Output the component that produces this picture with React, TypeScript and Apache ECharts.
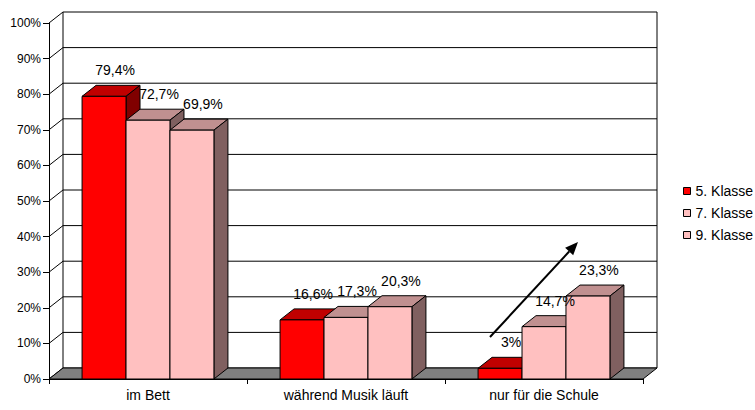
import React, { useEffect, useRef } from "react";
import * as echarts from "echarts";

const categories = ["im Bett", "während Musik läuft", "nur für die Schule"];
const seriesNames = ["5. Klasse", "7. Klasse", "9. Klasse"];
const klasse5 = [79.4, 16.6, 3];
const klasse7 = [72.7, 17.3, 14.7];
const klasse9 = [69.9, 20.3, 23.3];
const yTicks = [0, 10, 20, 30, 40, 50, 60, 70, 80, 90, 100];

const DX = 14;
const DY = -11;
const FONT = '"Liberation Sans", Arial, sans-serif';

const palettes = [
  { front: "#FF0000", top: "#C00000", side: "#800000" },
  { front: "#FFC0C0", top: "#C09090", side: "#806060" },
  { front: "#FFC0C0", top: "#C09090", side: "#806060" },
];

const fmt = (v: number) => String(v).replace(".", ",") + "%";

function barRenderer(k: number) {
  const pal = palettes[k];
  return (params: any, api: any) => {
    const ci = api.value(0);
    const v = api.value(1);
    const [cx, y0] = api.coord([ci, 0]);
    const [, yv] = api.coord([ci, v]);
    const cw = api.size([1, 0])[0];
    const bw = cw * 0.222;
    const x0 = cx - 1.5 * bw + k * bw;
    const x1 = x0 + bw;
    const stroke = { stroke: "#000", lineWidth: 1 };
    return {
      type: "group",
      children: [
        {
          type: "polygon",
          z2: k,
          shape: { points: [[x0, yv], [x0 + DX, yv + DY], [x1 + DX, yv + DY], [x1, yv]] },
          style: { fill: pal.top, ...stroke },
        },
        {
          type: "polygon",
          z2: k,
          shape: { points: [[x1, yv], [x1 + DX, yv + DY], [x1 + DX, y0 + DY], [x1, y0]] },
          style: { fill: pal.side, ...stroke },
        },
        {
          type: "rect",
          z2: k,
          shape: { x: x0, y: yv, width: bw, height: y0 - yv },
          style: { fill: pal.front, ...stroke },
        },
        {
          type: "text",
          z2: 50,
          style: {
            text: fmt(v),
            x: x0 + bw / 2 + 11,
            y: yv + DY - 15,
            align: "center",
            verticalAlign: "middle",
            fontSize: 14,
            fontFamily: FONT,
            fill: "#000",
          },
        },
      ],
    };
  };
}

function frameRenderer(params: any, api: any) {
  const v = api.value(1);
  const [, y] = api.coord([0, v]);
  const cs = params.coordSys;
  const left = cs.x;
  const right = cs.x + cs.width;
  const children: any[] = [
    {
      type: "line",
      shape: { x1: left, y1: y, x2: left + DX, y2: y + DY },
      style: { stroke: "#000", lineWidth: 1 },
    },
    {
      type: "line",
      shape: { x1: left + DX, y1: y + DY, x2: right + DX, y2: y + DY },
      style: { stroke: "#000", lineWidth: 1 },
    },
  ];
  if (v === 0) {
    const top = cs.y;
    children.push(
      {
        type: "line",
        shape: { x1: left + DX, y1: top + DY, x2: left + DX, y2: y + DY },
        style: { stroke: "#000", lineWidth: 1 },
      },
      {
        type: "line",
        shape: { x1: right + DX, y1: top + DY, x2: right + DX, y2: y + DY },
        style: { stroke: "#000", lineWidth: 1 },
      },
      {
        type: "polygon",
        shape: { points: [[left, y], [left + DX, y + DY], [right + DX, y + DY], [right, y]] },
        style: { fill: "#808080", stroke: "#000", lineWidth: 1 },
      }
    );
  }
  return { type: "group", children };
}

export default function App() {
  const ref = useRef<HTMLDivElement>(null);
  useEffect(() => {
    if (!ref.current) return;
    const chart = echarts.init(ref.current, null, { renderer: "svg" });
    const seriesValues = [klasse5, klasse7, klasse9];

    // arrow annotation
    const ax1 = 490, ay1 = 337, tx = 578, ty = 242;
    const len = Math.hypot(tx - ax1, ty - ay1);
    const ux = (tx - ax1) / len, uy = (ty - ay1) / len;
    const nx = -uy, ny = ux;
    const hl = 13, hw = 5.5;
    const bx = tx - hl * ux, by = ty - hl * uy;

    chart.setOption({
      animation: false,
      backgroundColor: "#fff",
      grid: { left: 49, right: 112, top: 23, bottom: 31 },
      xAxis: {
        type: "category",
        data: categories,
        boundaryGap: true,
        axisLine: { show: true, lineStyle: { color: "#000" } },
        axisTick: { show: true, length: 5, lineStyle: { color: "#000" } },
        axisLabel: { fontSize: 14, fontFamily: FONT, color: "#000", margin: 9 },
        splitLine: { show: false },
      },
      yAxis: {
        type: "value",
        min: 0,
        max: 100,
        interval: 10,
        axisLine: { show: true, lineStyle: { color: "#000" } },
        axisTick: { show: true, length: 6, lineStyle: { color: "#000" } },
        axisLabel: { formatter: "{value}%", fontSize: 12, fontFamily: FONT, color: "#000", margin: 8 },
        splitLine: { show: false },
      },
      legend: {
        orient: "vertical",
        left: 678,
        top: 178,
        itemWidth: 7,
        itemHeight: 7,
        itemGap: 6,
        icon: "rect",
        textStyle: { fontSize: 14, fontFamily: FONT, color: "#000", lineHeight: 16 },
        data: seriesNames.map((n, k) => ({
          name: n,
          icon: "rect",
          itemStyle: { color: palettes[k].front, borderColor: "#000", borderWidth: 1 },
        })),
      },
      series: [
        {
          name: "frame",
          type: "custom",
          renderItem: frameRenderer,
          data: yTicks.map((t) => [0, t]),
          silent: true,
          z: 1,
        },
        ...seriesNames.map((n, k) => ({
          name: n,
          type: "custom",
          renderItem: barRenderer(k),
          data: seriesValues[k].map((v, i) => [i, v]),
          itemStyle: { color: palettes[k].front, borderColor: "#000", borderWidth: 1 },
          z: 2,
        })),
      ],
      graphic: [
        {
          type: "line",
          shape: { x1: ax1, y1: ay1, x2: bx, y2: by },
          style: { stroke: "#000", lineWidth: 2 },
          z: 100,
        },
        {
          type: "polygon",
          shape: { points: [[tx, ty], [bx + hw * nx, by + hw * ny], [bx - hw * nx, by - hw * ny]] },
          style: { fill: "#000" },
          z: 100,
        },
      ],
    });
    return () => chart.dispose();
  }, []);
  return (
    <div
      ref={ref}
      style={{ position: "fixed", left: 0, top: 0, width: 755, height: 410 }}
    />
  );
}
